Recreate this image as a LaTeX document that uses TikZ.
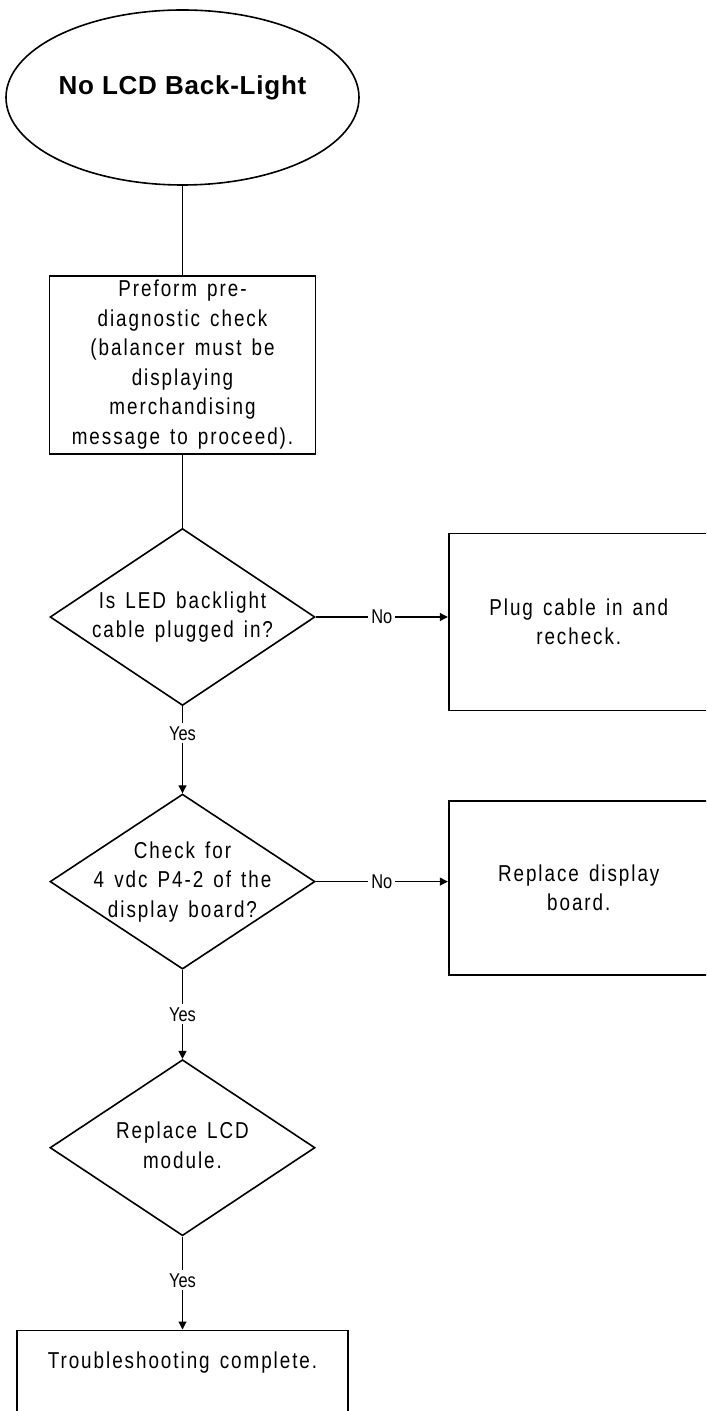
\documentclass[tikz,border=0pt]{standalone}
\usepackage{fontspec}
\newfontfamily\flowfont[FakeStretch=0.82, LetterSpace=8.5, WordSpace=1.4]{Liberation Sans}
\newfontfamily\tagfont[FakeStretch=0.82]{Liberation Sans}
\newfontfamily\titlefont[LetterSpace=3]{Liberation Sans}
\newcommand{\flowtext}{\flowfont\fontsize{11.5pt}{14.75pt}\selectfont}
\newcommand{\tagtext}{\tagfont\fontsize{10pt}{11pt}\selectfont}
\newcommand{\titletext}{\titlefont\bfseries\fontsize{13pt}{15pt}\selectfont}
% diamond text may run over the outline, so it takes no width
\newcommand{\centrestack}[1]{\makebox[0pt]{\begin{tabular}{@{}c@{}}#1\end{tabular}}}
\usetikzlibrary{arrows.meta, positioning, shapes.geometric}

\begin{document}
\begin{tikzpicture}[font=\flowtext, >={Triangle[length=4pt, width=4pt]}, line width=0.55pt,
    box/.style={draw, line width=0.95pt, align=center, inner sep=1pt},
    decision/.style={draw, diamond, line width=0.8pt, aspect=1.5, inner sep=0pt,
      minimum width=132.5pt, minimum height=88pt},
    tag/.style={font=\tagtext, fill=white, inner sep=1.5pt}]
    \useasboundingbox (0,0) rectangle (353pt,-705.5pt);
    \clip (0,0) rectangle (353pt,-705.5pt);
    \node[draw, ellipse, line width=0.8pt, inner sep=0pt, minimum width=176.5pt, minimum height=87.5pt,
      font=\titletext, text height=10pt, text depth=12.5pt] (start) at (91.25pt,-48.75pt) {No LCD Back-Light};
    \node[box, below=44.5pt of start, minimum width=133pt, minimum height=89pt] (pre)
      {Preform pre-\\diagnostic check\\(balancer must be\\displaying\\merchandising\\message to proceed).};
    \node[decision, below=36.5pt of pre, minimum height=88.5pt] (led) {\centrestack{Is LED backlight\\cable plugged in?}};
    \node[box, right=66pt of led, yshift=-2.5pt, minimum width=130pt, minimum height=88.5pt] (plug)
      {Plug cable in and\\recheck.};
    \node[decision, below=43.5pt of led, minimum height=87.5pt] (vdc) {\centrestack{Check for\\4 vdc P4-2 of the\\display board?}};
    \node[box, right=66pt of vdc, yshift=-3pt, minimum width=130pt, minimum height=87pt] (board)
      {Replace display\\board.};
    \node[decision, below=44.5pt of vdc] (lcd) {\centrestack{Replace LCD\\module.}};
    \node[box, below=46.5pt of lcd, minimum width=165.5pt, text height=18pt, text depth=68pt] (done)
      {Troubleshooting complete.};
    \draw (start) -- (pre);
    \draw (pre) -- (led);
    \draw[->] (led) -- node[tag, pos=0.31] (yes1) {Yes} (vdc);
    \draw[->] (led.east) -- node[tag] (no1) {No} (led.east -| plug.west);
    \draw[->] (vdc) -- node[tag] (yes2) {Yes} (lcd);
    \draw[->] (vdc.east) -- node[tag] (no2) {No} (vdc.east -| board.west);
    \draw[->] (lcd) -- node[tag, pos=0.47] (yes3) {Yes} (done);
  \end{tikzpicture}
\end{document}
